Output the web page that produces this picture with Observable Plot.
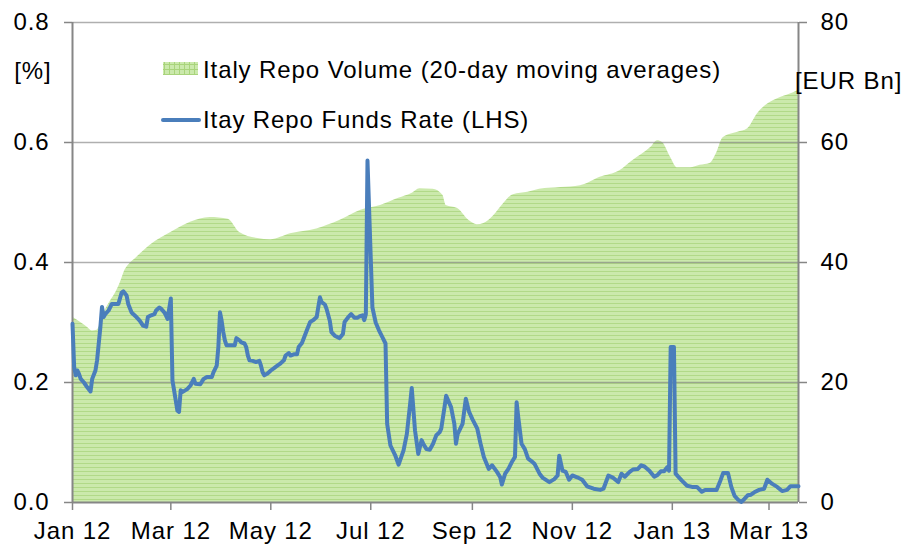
<!DOCTYPE html>
<html><head><meta charset="utf-8">
<script src="https://cdn.jsdelivr.net/npm/d3@7"></script>
<script src="https://cdn.jsdelivr.net/npm/@observablehq/plot@0.6"></script>
<style>
body{margin:0;background:#fff;}
#chart{position:relative;width:903px;height:548px;}
</style>
</head><body>
<svg width="0" height="0" style="position:absolute">
  <defs>
    <pattern id="hatch" width="4" height="4" patternUnits="userSpaceOnUse">
      <rect width="4" height="4" fill="#cbe9ac"/>
      <rect y="3" width="4" height="1" fill="#b1d988"/>
    </pattern>
    <pattern id="gridpat" width="5" height="5" patternUnits="userSpaceOnUse">
      <rect width="5" height="5" fill="#cbe9ac"/>
      <rect y="4" width="5" height="1" fill="#a9d47c"/>
      <rect x="4" width="1" height="5" fill="#a9d47c"/>
    </pattern>
  </defs>
</svg>
<div id="chart"></div>
<script>
// Italy repo volume, 20-day moving average [EUR Bn] (right axis)
const volume = [
  ["2012-01-01",30.9],["2012-01-06",30.0],["2012-01-10",29.2],["2012-01-13",28.6],["2012-01-16",28.7],
  ["2012-01-20",31.5],["2012-01-24",33.5],["2012-01-27",34.8],["2012-01-30",36.5],["2012-02-02",38.7],
  ["2012-02-05",39.8],["2012-02-09",40.8],["2012-02-18",43.0],["2012-03-01",45.0],["2012-03-13",46.7],
  ["2012-03-25",47.5],["2012-04-05",47.2],["2012-04-12",45.0],["2012-04-23",44.0],["2012-05-01",43.8],
  ["2012-05-13",44.8],["2012-05-29",45.6],["2012-06-12",47.0],["2012-06-25",48.7],["2012-07-07",49.5],
  ["2012-07-18",50.7],["2012-07-26",51.5],["2012-07-31",52.3],["2012-08-08",52.2],["2012-08-14",51.2],
  ["2012-08-16",49.5],["2012-08-23",49.0],["2012-08-30",47.0],["2012-09-04",46.3],["2012-09-08",46.5],
  ["2012-09-14",47.8],["2012-09-20",49.8],["2012-09-26",51.3],["2012-10-05",51.7],["2012-10-12",52.2],
  ["2012-10-25",52.5],["2012-11-06",52.8],["2012-11-18",54.2],["2012-11-30",55.3],["2012-12-08",57.0],
  ["2012-12-19",59.2],["2012-12-23",60.3],["2012-12-26",60.0],["2012-12-31",57.5],["2013-01-04",55.8],
  ["2013-01-12",55.8],["2013-01-18",56.2],["2013-01-24",56.5],["2013-01-28",58.2],["2013-02-01",60.8],
  ["2013-02-10",61.7],["2013-02-16",62.3],["2013-02-22",64.8],["2013-02-25",65.7],["2013-03-08",67.5],
  ["2013-03-16",68.3],["2013-03-19",68.7]
];

// Italy repo funds rate [%] (left axis)
const rate = [
  ["2012-01-01",0.298],["2012-01-02",0.226],["2012-01-03",0.212],["2012-01-04",0.22],["2012-01-05",0.214],
  ["2012-01-06",0.206],["2012-01-08",0.20],["2012-01-10",0.192],["2012-01-12",0.185],["2012-01-13",0.206],
  ["2012-01-15",0.22],["2012-01-16",0.237],["2012-01-18",0.292],["2012-01-19",0.326],["2012-01-20",0.309],
  ["2012-01-21",0.314],["2012-01-23",0.32],["2012-01-25",0.331],["2012-01-29",0.331],["2012-01-31",0.35],
  ["2012-02-01",0.352],["2012-02-03",0.345],["2012-02-04",0.331],["2012-02-06",0.317],["2012-02-07",0.314],
  ["2012-02-09",0.309],["2012-02-11",0.303],["2012-02-13",0.295],["2012-02-15",0.293],["2012-02-16",0.309],
  ["2012-02-18",0.312],["2012-02-20",0.314],["2012-02-21",0.32],["2012-02-23",0.325],["2012-02-24",0.323],
  ["2012-02-26",0.317],["2012-02-27",0.312],["2012-02-28",0.306],["2012-02-29",0.323],["2012-03-01",0.34],
  ["2012-03-02",0.203],["2012-03-03",0.187],["2012-03-04",0.17],["2012-03-05",0.153],["2012-03-06",0.151],
  ["2012-03-07",0.187],["2012-03-08",0.184],["2012-03-11",0.189],["2012-03-13",0.195],["2012-03-15",0.206],
  ["2012-03-16",0.198],["2012-03-19",0.197],["2012-03-21",0.206],["2012-03-23",0.209],["2012-03-26",0.209],
  ["2012-03-27",0.217],["2012-03-29",0.228],["2012-03-30",0.259],["2012-03-31",0.317],["2012-04-01",0.303],
  ["2012-04-02",0.284],["2012-04-03",0.27],["2012-04-04",0.262],["2012-04-09",0.262],["2012-04-10",0.274],
  ["2012-04-12",0.27],["2012-04-13",0.267],["2012-04-15",0.265],["2012-04-16",0.259],["2012-04-17",0.245],
  ["2012-04-18",0.237],["2012-04-20",0.236],["2012-04-22",0.234],["2012-04-24",0.236],["2012-04-25",0.228],
  ["2012-04-26",0.217],["2012-04-27",0.212],["2012-04-29",0.215],["2012-05-01",0.22],["2012-05-03",0.224],
  ["2012-05-05",0.228],["2012-05-07",0.232],["2012-05-09",0.237],["2012-05-10",0.245],["2012-05-12",0.249],
  ["2012-05-13",0.245],["2012-05-15",0.247],["2012-05-17",0.247],["2012-05-18",0.259],["2012-05-20",0.266],
  ["2012-05-21",0.273],["2012-05-23",0.287],["2012-05-25",0.301],["2012-05-27",0.304],["2012-05-29",0.309],
  ["2012-05-30",0.326],["2012-05-31",0.342],["2012-06-01",0.334],["2012-06-03",0.33],["2012-06-04",0.323],
  ["2012-06-06",0.303],["2012-06-07",0.284],["2012-06-09",0.278],["2012-06-12",0.274],["2012-06-14",0.281],
  ["2012-06-15",0.301],["2012-06-17",0.308],["2012-06-19",0.314],["2012-06-21",0.308],["2012-06-23",0.308],
  ["2012-06-24",0.31],["2012-06-26",0.312],["2012-06-27",0.304],["2012-06-28",0.314],["2012-06-29",0.57],
  ["2012-07-02",0.325],["2012-07-04",0.30],["2012-07-06",0.287],["2012-07-08",0.276],["2012-07-10",0.265],
  ["2012-07-11",0.131],["2012-07-13",0.095],["2012-07-16",0.078],["2012-07-18",0.063],["2012-07-21",0.087],
  ["2012-07-23",0.114],["2012-07-25",0.164],["2012-07-26",0.191],["2012-07-28",0.12],["2012-07-30",0.081],
  ["2012-08-01",0.104],["2012-08-02",0.098],["2012-08-04",0.089],["2012-08-06",0.088],["2012-08-08",0.098],
  ["2012-08-10",0.112],["2012-08-12",0.117],["2012-08-13",0.123],["2012-08-15",0.159],["2012-08-16",0.178],
  ["2012-08-19",0.159],["2012-08-21",0.131],["2012-08-22",0.098],["2012-08-23",0.114],["2012-08-26",0.131],
  ["2012-08-28",0.173],["2012-08-30",0.151],["2012-09-01",0.139],["2012-09-04",0.123],["2012-09-06",0.098],
  ["2012-09-08",0.076],["2012-09-11",0.056],["2012-09-13",0.062],["2012-09-16",0.051],["2012-09-18",0.042],
  ["2012-09-19",0.03],["2012-09-21",0.048],["2012-09-23",0.056],["2012-09-25",0.067],["2012-09-27",0.076],
  ["2012-09-28",0.167],["2012-09-29",0.142],["2012-10-01",0.098],["2012-10-03",0.089],["2012-10-05",0.073],
  ["2012-10-07",0.069],["2012-10-09",0.064],["2012-10-12",0.048],["2012-10-14",0.041],["2012-10-18",0.034],
  ["2012-10-21",0.039],["2012-10-23",0.045],["2012-10-24",0.078],["2012-10-26",0.053],["2012-10-28",0.051],
  ["2012-10-30",0.038],["2012-11-01",0.045],["2012-11-04",0.042],["2012-11-07",0.038],["2012-11-10",0.027],
  ["2012-11-14",0.023],["2012-11-18",0.021],["2012-11-20",0.023],["2012-11-23",0.045],["2012-11-26",0.041],
  ["2012-11-29",0.034],["2012-12-01",0.048],["2012-12-03",0.043],["2012-12-06",0.051],["2012-12-08",0.055],
  ["2012-12-11",0.056],["2012-12-13",0.062],["2012-12-15",0.06],["2012-12-18",0.053],["2012-12-21",0.043],
  ["2012-12-23",0.046],["2012-12-25",0.052],["2012-12-27",0.052],["2012-12-29",0.059],["2012-12-30",0.053],
  ["2012-12-31",0.259],["2013-01-02",0.259],["2013-01-03",0.048],["2013-01-05",0.042],["2013-01-07",0.036],
  ["2013-01-10",0.028],["2013-01-13",0.026],["2013-01-16",0.026],["2013-01-19",0.018],["2013-01-21",0.021],
  ["2013-01-24",0.021],["2013-01-28",0.021],["2013-01-30",0.034],["2013-02-01",0.049],["2013-02-04",0.049],
  ["2013-02-06",0.026],["2013-02-08",0.011],["2013-02-10",0.005],["2013-02-12",0.001],["2013-02-14",0.006],
  ["2013-02-16",0.012],["2013-02-18",0.013],["2013-02-20",0.017],["2013-02-23",0.021],["2013-02-26",0.023],
  ["2013-02-28",0.038],["2013-03-03",0.031],["2013-03-06",0.026],["2013-03-09",0.019],["2013-03-12",0.021],
  ["2013-03-14",0.027],["2013-03-19",0.027]
];

const xTicks = ["2012-01-01","2012-03-01","2012-05-01","2012-07-01","2012-09-01","2012-11-01","2013-01-01","2013-03-01"];
const xDomain = ["2012-01-01","2013-03-19"];
const leftTicks = [0, 0.2, 0.4, 0.6, 0.8];
const rightTicks = [0, 20, 40, 60, 80];
const legendLabels = ["Italy Repo Volume (20-day moving averages)", "Itay Repo Funds Rate (LHS)"];
const axisUnits = ["[%]", "[EUR Bn]"];

const volRows = volume.map(([d, v]) => ({date: new Date(d), v}));
const rateRows = rate.map(([d, r]) => ({date: new Date(d), r}));
const xd = xDomain.map(d => new Date(d));
const xt = xTicks.map(d => new Date(d));
const rightMax = rightTicks[rightTicks.length - 1];
const leftMax = leftTicks[leftTicks.length - 1];
const toLeft = v => v * leftMax / rightMax;

const axisGray = "#868686";
const blue = "#4a7ebb";
const fontFam = "'Liberation Sans', Arial, sans-serif";

const chart = Plot.plot({
  width: 903, height: 548,
  marginLeft: 72, marginRight: 105, marginTop: 22, marginBottom: 46,
  style: {fontFamily: fontFam, fontSize: "24px", letterSpacing: "0.9px", color: "#000", background: "#fff", overflow: "visible"},
  x: {type: "utc", domain: xd},
  y: {domain: [0, leftMax]},
  marks: [
    Plot.areaY(volRows, {x: "date", y: d => toLeft(d.v), fill: "url(#hatch)", curve: "monotone-x"}),
    Plot.gridY(leftTicks.slice(1), {stroke: "#7a7a7a", strokeOpacity: 0.6, strokeWidth: 1.5}),
    Plot.ruleX(xd, {stroke: axisGray, strokeWidth: 2}),
    Plot.ruleY([0], {stroke: axisGray, strokeWidth: 2}),
    Plot.lineY(rateRows, {x: "date", y: "r", stroke: blue, strokeWidth: 4, strokeLinejoin: "round", strokeLinecap: "round"}),
    Plot.axisY(leftTicks, {anchor: "left", tickSize: 8, tickPadding: 15, tickFormat: d3.format(".1f"), stroke: axisGray, strokeWidth: 1.5, fill: "#000", label: null}),
    Plot.axisY(rightTicks.map(toLeft), {anchor: "right", tickSize: 8, tickPadding: 14, tickFormat: d => String(Math.round(d * rightMax / leftMax)), stroke: axisGray, strokeWidth: 1.5, fill: "#000", label: null}),
    Plot.axisX(xt, {tickSize: 8, tickPadding: 11, tickFormat: d3.utcFormat("%b %y"), stroke: axisGray, strokeWidth: 1.5, fill: "#000", label: null})
  ]
});

const svg = d3.select(chart);
const lg = svg.append("g")
  .attr("font-family", fontFam).attr("font-size", 24).attr("letter-spacing", "0.9px")
  .attr("fill", "#000").attr("text-anchor", "start");
lg.append("rect").attr("x", 163).attr("y", 62).attr("width", 35).attr("height", 13).attr("fill", "url(#gridpat)");
lg.append("text").attr("x", 203).attr("y", 70).attr("dy", "0.35em").text(legendLabels[0]);
lg.append("line").attr("x1", 163).attr("x2", 199).attr("y1", 120).attr("y2", 120).attr("stroke", blue).attr("stroke-width", 4).attr("stroke-linecap", "round");
lg.append("text").attr("x", 203).attr("y", 120).attr("dy", "0.35em").text(legendLabels[1]);
lg.append("text").attr("x", 33).attr("y", 71).attr("dy", "0.35em").attr("text-anchor", "middle").text(axisUnits[0]);
lg.append("text").attr("x", 795).attr("y", 81).attr("dy", "0.35em").text(axisUnits[1]);

document.getElementById("chart").appendChild(chart);
</script>
</body></html>
